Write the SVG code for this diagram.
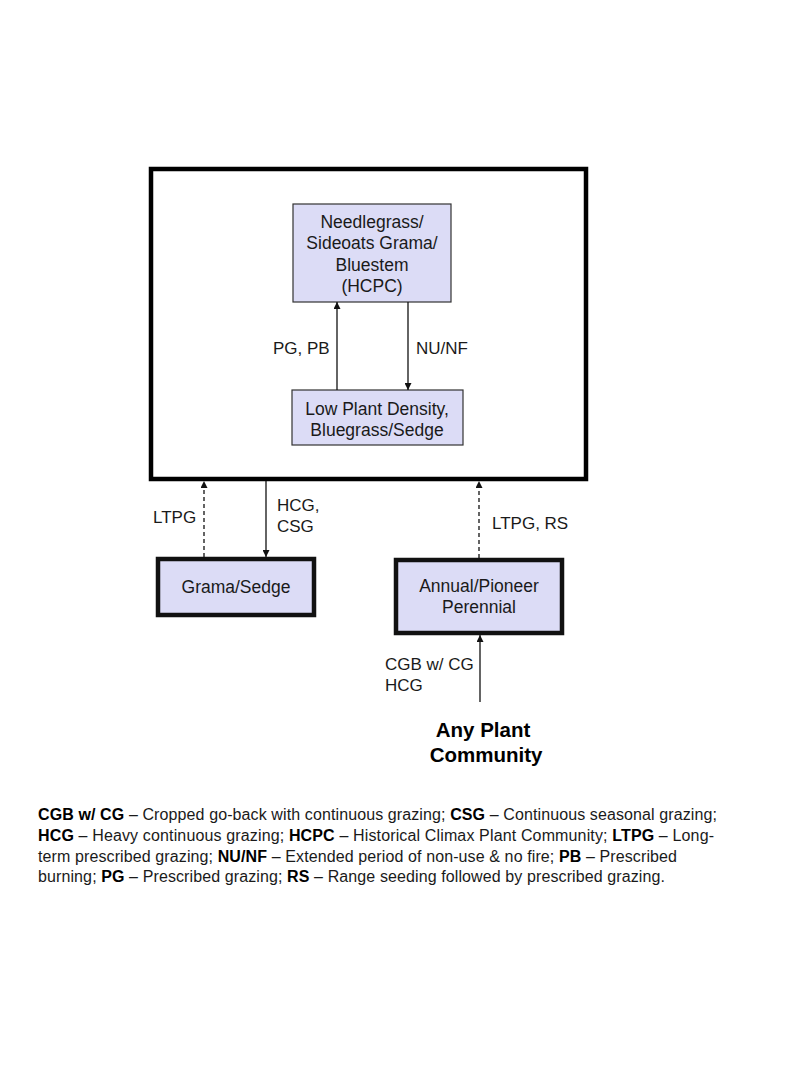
<svg xmlns="http://www.w3.org/2000/svg" width="800" height="1067" viewBox="0 0 800 1067">
<style>
text{font-family:"Liberation Sans",Arial,sans-serif;fill:#1a1a1a}
.n{font-size:17.5px;text-anchor:middle}
.l{font-size:17px}
.thin{fill:#dcdcf6;stroke:#333;stroke-width:1.2}
.thick{fill:#dcdcf6;stroke:#111;stroke-width:4.5}
.c{stroke:#111;stroke-width:1.3;fill:none}
.d{stroke:#111;stroke-width:1.3;fill:none;stroke-dasharray:4 3}
.leg{font-size:16px}
.b{font-weight:bold;fill:#000}
</style>
<defs>
<marker id="ah" viewBox="0 0 10 10" refX="10" refY="5" markerWidth="7" markerHeight="7" markerUnits="userSpaceOnUse" orient="auto">
<path d="M0,0 L10,5 L0,10 z" fill="#111"/>
</marker>
</defs>
<rect width="800" height="1067" fill="#fff"/>
<g id="frame"><rect x="151" y="169" width="435" height="310" fill="none" stroke="#000" stroke-width="4.5"/></g>
<g id="hcpc"><rect class="thin" x="293" y="204" width="158" height="98"/>
<text class="n" x="372" y="228">Needlegrass/</text>
<text class="n" x="372" y="249">Sideoats Grama/</text>
<text class="n" x="372" y="271">Bluestem</text>
<text class="n" x="372" y="292">(HCPC)</text></g>
<g id="lowdensity"><rect class="thin" x="292" y="390" width="171" height="55"/>
<text class="n" x="377" y="415">Low Plant Density,</text>
<text class="n" x="377" y="436">Bluegrass/Sedge</text></g>
<g id="gramasedge"><rect class="thick" x="158" y="559" width="156" height="56"/>
<text class="n" x="236" y="593">Grama/Sedge</text></g>
<g id="annual"><rect class="thick" x="396" y="560" width="166" height="73"/>
<text class="n" x="479" y="592">Annual/Pioneer</text>
<text class="n" x="479" y="613">Perennial</text></g>
<g id="anyplant">
<text x="483" y="737" style="font-size:20.5px;font-weight:bold;text-anchor:middle;fill:#000">Any Plant</text>
<text x="486" y="762" style="font-size:20.5px;font-weight:bold;text-anchor:middle;fill:#000">Community</text></g>
<g id="connectors">
<line class="c" x1="337" y1="390" x2="337" y2="302" marker-end="url(#ah)"/>
<line class="c" x1="408" y1="302" x2="408" y2="390" marker-end="url(#ah)"/>
<line class="d" x1="204" y1="557" x2="204" y2="481" marker-end="url(#ah)"/>
<line class="c" x1="266" y1="481" x2="266" y2="557" marker-end="url(#ah)"/>
<line class="d" x1="479" y1="558" x2="479" y2="481" marker-end="url(#ah)"/>
<line class="c" x1="480" y1="702" x2="480" y2="635" marker-end="url(#ah)"/>
<text class="l" x="273" y="354">PG, PB</text>
<text class="l" x="416" y="354">NU/NF</text>
<text class="l" x="153" y="523">LTPG</text>
<text class="l" x="277" y="511">HCG,</text>
<text class="l" x="277" y="532">CSG</text>
<text class="l" x="492" y="529">LTPG, RS</text>
<text class="l" x="385" y="670">CGB w/ CG</text>
<text class="l" x="385" y="691">HCG</text>
</g>
<g id="legend">
<text class="leg" x="38" y="820" textLength="679"><tspan class="b">CGB w/ CG</tspan> – Cropped go-back with continuous grazing; <tspan class="b">CSG</tspan> – Continuous seasonal grazing;</text>
<text class="leg" x="38" y="841" textLength="676"><tspan class="b">HCG</tspan> – Heavy continuous grazing; <tspan class="b">HCPC</tspan> – Historical Climax Plant Community; <tspan class="b">LTPG</tspan> – Long-</text>
<text class="leg" x="38" y="862" textLength="639">term prescribed grazing; <tspan class="b">NU/NF</tspan> – Extended period of non-use &amp; no fire; <tspan class="b">PB</tspan> – Prescribed</text>
<text class="leg" x="38" y="882" textLength="627">burning; <tspan class="b">PG</tspan> – Prescribed grazing; <tspan class="b">RS</tspan> – Range seeding followed by prescribed grazing.</text>
</g>
</svg>
